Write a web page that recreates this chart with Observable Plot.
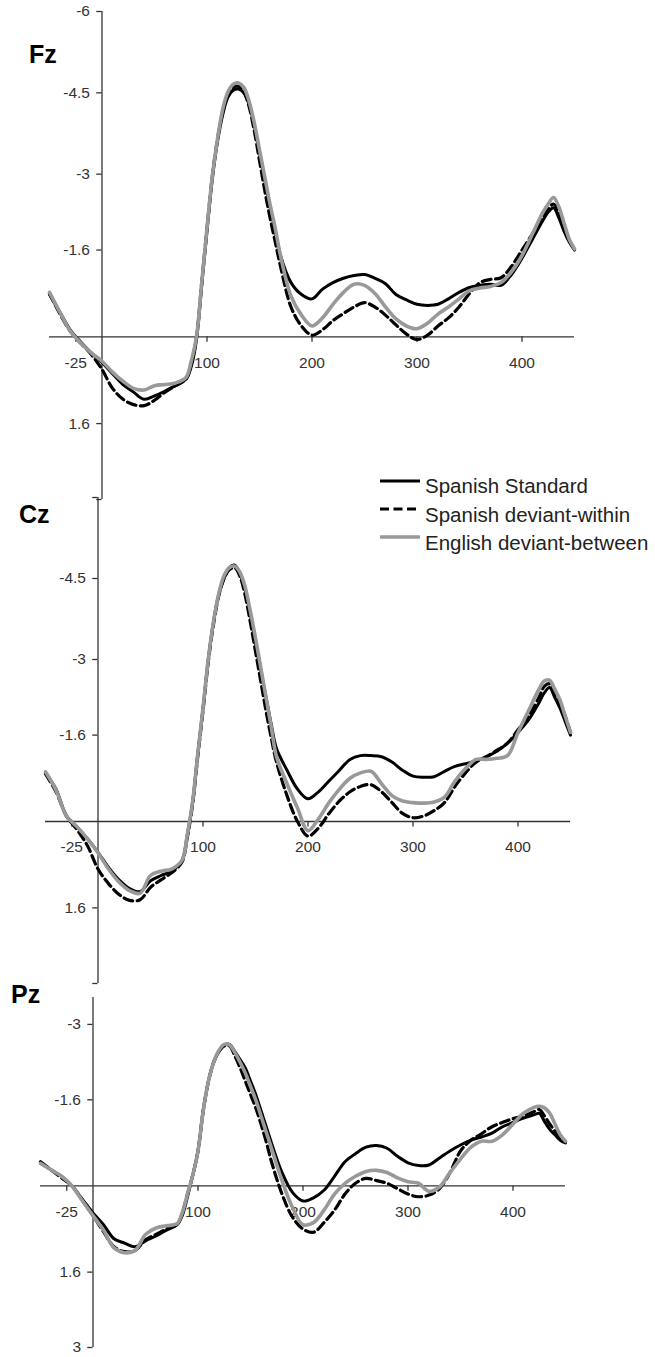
<!DOCTYPE html>
<html>
<head>
<meta charset="utf-8">
<script src="https://cdn.jsdelivr.net/npm/d3@7"></script>
<script src="https://cdn.jsdelivr.net/npm/@observablehq/plot@0.6"></script>
<style>
  body { margin: 0; background: #fff; }
  #wrap { position: relative; width: 655px; height: 1357px; overflow: hidden; }
  #wrap svg { position: absolute; left: 0; }
</style>
</head>
<body>
<div id="wrap"></div>
<script>
// ---- data (latency in ms, amplitude in µV; negative plotted up) ----
const times = [-50,-40,-30,-20,-10,0,10,20,30,40,50,60,70,80,85,90,95,100,105,110,115,120,125,130,135,140,145,150,155,160,165,170,180,190,200,210,220,230,240,250,260,270,280,290,300,310,320,330,340,350,360,370,380,390,400,410,420,425,430,435,440,445,450];

const seriesNames = ["Spanish Standard", "Spanish deviant-within", "English deviant-between"];

const fzStandard = [-0.78,-0.45,-0.12,0.10,0.30,0.47,0.68,0.88,1.02,1.15,1.09,1.00,0.90,0.78,0.55,0.05,-0.95,-1.95,-2.9,-3.6,-4.1,-4.42,-4.55,-4.57,-4.5,-4.3,-3.9,-3.4,-2.9,-2.4,-1.95,-1.5,-1.0,-0.78,-0.70,-0.88,-1.0,-1.08,-1.13,-1.15,-1.08,-0.98,-0.78,-0.68,-0.6,-0.58,-0.6,-0.7,-0.82,-0.91,-0.95,-0.97,-0.95,-1.15,-1.45,-1.8,-2.15,-2.3,-2.38,-2.2,-1.95,-1.75,-1.6];
const fzWithin   = [-0.8,-0.42,-0.1,0.12,0.33,0.6,0.95,1.15,1.25,1.27,1.17,1.02,0.9,0.78,0.5,0.0,-1.0,-2.0,-2.95,-3.65,-4.15,-4.48,-4.6,-4.62,-4.52,-4.25,-3.8,-3.25,-2.7,-2.2,-1.75,-1.3,-0.55,-0.2,-0.03,-0.13,-0.3,-0.43,-0.55,-0.63,-0.55,-0.4,-0.22,-0.05,0.05,-0.03,-0.2,-0.35,-0.55,-0.8,-1.0,-1.06,-1.09,-1.3,-1.6,-1.9,-2.2,-2.35,-2.45,-2.3,-2.0,-1.78,-1.62];
const fzBetween  = [-0.82,-0.45,-0.1,0.12,0.30,0.45,0.65,0.82,0.95,0.98,0.90,0.88,0.85,0.75,0.45,0.0,-1.0,-2.0,-2.95,-3.65,-4.2,-4.52,-4.66,-4.68,-4.6,-4.35,-3.95,-3.45,-2.95,-2.45,-2.0,-1.5,-0.75,-0.4,-0.2,-0.35,-0.6,-0.82,-0.97,-0.95,-0.8,-0.55,-0.33,-0.2,-0.15,-0.25,-0.42,-0.55,-0.7,-0.85,-0.9,-0.93,-1.0,-1.2,-1.5,-1.9,-2.3,-2.45,-2.57,-2.4,-2.1,-1.8,-1.62];

const czStandard = [-0.9,-0.6,-0.1,0.1,0.32,0.57,0.85,1.08,1.24,1.3,1.1,1.0,0.92,0.72,0.25,-0.35,-1.25,-2.1,-3.0,-3.7,-4.2,-4.5,-4.7,-4.75,-4.6,-4.3,-3.85,-3.3,-2.8,-2.3,-1.8,-1.35,-0.95,-0.6,-0.42,-0.55,-0.75,-0.95,-1.15,-1.22,-1.22,-1.2,-1.1,-0.95,-0.84,-0.82,-0.83,-0.93,-1.02,-1.07,-1.12,-1.2,-1.3,-1.45,-1.65,-1.88,-2.2,-2.38,-2.48,-2.3,-2.1,-1.85,-1.6];
const czWithin   = [-0.88,-0.55,-0.1,0.15,0.45,0.88,1.15,1.35,1.46,1.45,1.22,1.08,0.95,0.75,0.3,-0.3,-1.2,-2.05,-2.95,-3.65,-4.18,-4.5,-4.66,-4.7,-4.55,-4.2,-3.7,-3.15,-2.6,-2.05,-1.55,-1.1,-0.48,0.0,0.27,0.12,-0.15,-0.38,-0.55,-0.65,-0.68,-0.55,-0.35,-0.15,-0.07,-0.1,-0.2,-0.35,-0.65,-0.9,-1.1,-1.2,-1.32,-1.45,-1.7,-1.95,-2.3,-2.5,-2.55,-2.4,-2.2,-1.95,-1.65];
const czBetween  = [-0.92,-0.58,-0.1,0.1,0.32,0.58,0.88,1.12,1.28,1.33,1.0,0.92,0.88,0.72,0.25,-0.35,-1.25,-2.1,-3.0,-3.7,-4.22,-4.55,-4.7,-4.73,-4.62,-4.35,-3.9,-3.4,-2.85,-2.3,-1.75,-1.2,-0.7,-0.25,0.17,-0.05,-0.35,-0.6,-0.8,-0.9,-0.93,-0.7,-0.48,-0.38,-0.35,-0.34,-0.36,-0.45,-0.75,-0.98,-1.15,-1.15,-1.17,-1.22,-1.65,-2.05,-2.45,-2.6,-2.62,-2.45,-2.25,-1.95,-1.65];

const pzStandard = [-0.44,-0.3,-0.18,0.0,0.25,0.5,0.72,0.98,1.06,1.13,1.02,0.93,0.82,0.72,0.55,0.2,-0.2,-0.65,-1.4,-1.95,-2.3,-2.5,-2.62,-2.63,-2.5,-2.35,-2.19,-1.95,-1.7,-1.4,-1.1,-0.8,-0.25,0.12,0.28,0.22,0.08,-0.18,-0.45,-0.6,-0.72,-0.75,-0.7,-0.55,-0.43,-0.38,-0.39,-0.52,-0.65,-0.76,-0.85,-0.91,-0.98,-1.1,-1.18,-1.26,-1.32,-1.35,-1.2,-1.05,-0.95,-0.85,-0.8];
const pzWithin   = [-0.45,-0.3,-0.15,0.0,0.27,0.55,0.85,1.13,1.22,1.2,1.0,0.9,0.8,0.72,0.5,0.15,-0.2,-0.65,-1.4,-1.95,-2.3,-2.5,-2.6,-2.6,-2.42,-2.2,-1.95,-1.7,-1.45,-1.15,-0.82,-0.45,0.15,0.58,0.8,0.86,0.68,0.45,0.15,-0.05,-0.14,-0.1,-0.05,0.05,0.15,0.2,0.17,0.05,-0.25,-0.65,-0.85,-0.97,-1.1,-1.18,-1.25,-1.3,-1.38,-1.42,-1.3,-1.15,-1.02,-0.9,-0.83];
const pzBetween  = [-0.42,-0.3,-0.18,0.0,0.28,0.55,0.82,1.15,1.24,1.2,0.9,0.78,0.74,0.7,0.5,0.15,-0.2,-0.65,-1.4,-1.95,-2.3,-2.52,-2.63,-2.62,-2.48,-2.3,-2.1,-1.85,-1.6,-1.3,-1.0,-0.7,-0.1,0.4,0.72,0.68,0.45,0.15,-0.05,-0.18,-0.27,-0.29,-0.25,-0.15,-0.08,-0.05,0.1,0.02,-0.25,-0.5,-0.72,-0.83,-0.83,-0.95,-1.15,-1.35,-1.46,-1.48,-1.45,-1.35,-1.15,-0.95,-0.83];

// ---- axis tick values ----
const xTickValues = [-25, 100, 200, 300, 400];
const fzYTicks = [-6, -4.5, -3, -1.6, 1.6, 3];
const fzYLabels = [-6, -4.5, -3, -1.6, 1.6];
const czYTicks = [-6, -4.5, -3, -1.6, 1.6, 3];
const czYLabels = [-4.5, -3, -1.6, 1.6];
const pzYTicks = [-3, -1.6, 1.6, 3];
const pzYLabels = [-3, -1.6, 1.6, 3];

const FONT = "'Liberation Sans', Arial, Helvetica, sans-serif";
const AXIS = "#333";

function rows(vals) { return times.map((t, i) => ({t, v: vals[i]})); }

function panel({std, within, between, yDomain, yTicks, yLabels, top, height, marginLeft, marginBottom}) {
  const svg = Plot.plot({
    width: 655,
    height,
    marginTop: 11,
    marginBottom,
    marginLeft,
    marginRight: 655 - marginLeft - 525,
    x: {domain: [-50, 450], axis: null},
    y: {domain: [yDomain[1], yDomain[0]], axis: null},
    style: {fontFamily: FONT, fontSize: "15.5px", color: AXIS, background: "transparent", overflow: "visible"},
    marks: [
      // x axis line at 0 µV
      Plot.ruleY([0], {x1: -50, x2: 450, stroke: AXIS, strokeWidth: 1.3}),
      // y axis line at 0 ms
      Plot.ruleX([0], {y1: yDomain[0], y2: yDomain[1], stroke: AXIS, strokeWidth: 1.3}),
      // y ticks (pointing left)
      Plot.ruleY(yTicks, {x1: -5, x2: 0, stroke: AXIS, strokeWidth: 1.3}),
      Plot.text(yLabels, {x: 0, y: d => d, text: d => String(d), dx: -12, textAnchor: "end", fill: AXIS, fontSize: 15.5}),
      // x ticks (pointing down)
      Plot.ruleX(xTickValues, {y1: 0, y2: 0.1, stroke: AXIS, strokeWidth: 1.3}),
      Plot.text(xTickValues, {x: d => d, y: 0, text: d => String(d), dy: 26, fill: AXIS, fontSize: 15.5}),
      // waveforms
      Plot.line(rows(within), {x: "t", y: "v", stroke: "#000", strokeWidth: 3.2, strokeDasharray: "9,4.5", curve: "catmull-rom"}),
      Plot.line(rows(std), {x: "t", y: "v", stroke: "#000", strokeWidth: 3, curve: "catmull-rom"}),
      Plot.line(rows(between), {x: "t", y: "v", stroke: "#999", strokeWidth: 3.6, curve: "catmull-rom"})
    ]
  });
  svg.style.top = top + "px";
  return svg;
}

const wrap = document.getElementById("wrap");
wrap.appendChild(panel({std: fzStandard, within: fzWithin, between: fzBetween, yDomain: [-6, 3], yTicks: fzYTicks, yLabels: fzYLabels, top: 0, height: 505, marginLeft: 49, marginBottom: 6}));
wrap.appendChild(panel({std: czStandard, within: czWithin, between: czBetween, yDomain: [-6, 3], yTicks: czYTicks, yLabels: czYLabels, top: 486, height: 505, marginLeft: 45, marginBottom: 8}));
wrap.appendChild(panel({std: pzStandard, within: pzWithin, between: pzBetween, yDomain: [-3.5, 3], yTicks: pzYTicks, yLabels: pzYLabels, top: 986, height: 371, marginLeft: 40, marginBottom: 10}));

// ---- overlay: electrode labels and legend ----
const panelLabels = ["Fz", "Cz", "Pz"];
const overlay = d3.create("svg").attr("width", 655).attr("height", 1357).style("top", "0px")
  .style("font-family", FONT);
const labelPos = [[29, 63], [19, 523], [11, 1003]];
panelLabels.forEach((s, i) => {
  overlay.append("text").attr("x", labelPos[i][0]).attr("y", labelPos[i][1])
    .attr("font-size", 25).attr("font-weight", "bold").attr("fill", "#000").text(s);
});
const legendStyles = [
  {stroke: "#000", width: 3, dash: null},
  {stroke: "#000", width: 3.2, dash: "9,4.5"},
  {stroke: "#999", width: 3.6, dash: null}
];
const lg = overlay.append("g");
seriesNames.forEach((s, i) => {
  const yLine = 481 + i * 28;
  const l = lg.append("line").attr("x1", 380).attr("x2", 420).attr("y1", yLine).attr("y2", yLine)
    .attr("stroke", legendStyles[i].stroke).attr("stroke-width", legendStyles[i].width);
  if (legendStyles[i].dash) l.attr("stroke-dasharray", legendStyles[i].dash);
  lg.append("text").attr("x", 425).attr("y", 493 + i * 28.5).attr("font-size", 20.5).attr("fill", "#222").text(s);
});
wrap.appendChild(overlay.node());
</script>
</body>
</html>
